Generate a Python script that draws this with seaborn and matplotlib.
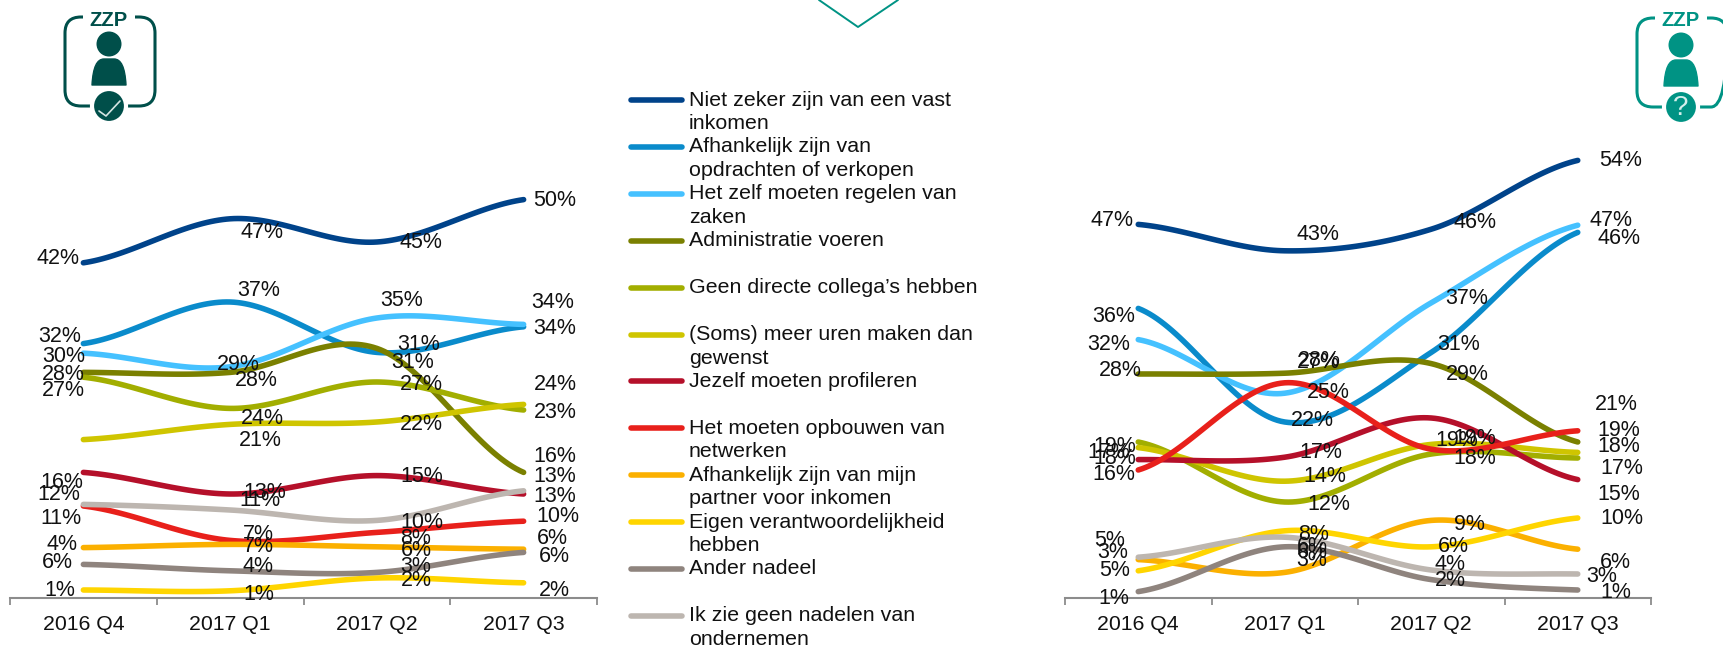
# ZZP nadelen: twee lijngrafieken met een gedeelde legenda
import numpy as np
import pandas as pd
import matplotlib
matplotlib.use("Agg")
import matplotlib.pyplot as plt
from matplotlib.lines import Line2D
from matplotlib.patches import Circle, FancyBboxPatch, PathPatch, Rectangle
from matplotlib.path import Path
import seaborn as sns

categories = ["2016 Q4", "2017 Q1", "2017 Q2", "2017 Q3"]

series_names = [
    "Niet zeker zijn van een vast\ninkomen",
    "Afhankelijk zijn van\nopdrachten of verkopen",
    "Het zelf moeten regelen van\nzaken",
    "Administratie voeren",
    "Geen directe collega’s hebben",
    "(Soms) meer uren maken dan\ngewenst",
    "Jezelf moeten profileren",
    "Het moeten opbouwen van\nnetwerken",
    "Afhankelijk zijn van mijn\npartner voor inkomen",
    "Eigen verantwoordelijkheid\nhebben",
    "Ander nadeel",
    "Ik zie geen nadelen van\nondernemen",
]
series_colors = ["#00438a", "#0a8bcb", "#45c1ff", "#7a8000", "#a2ae00", "#cfc500",
                 "#b5102a", "#e8201b", "#fbb000", "#ffd500", "#8f847e", "#bdb6b0"]

left_values = [
    [41.9, 47.4, 44.5, 49.8],
    [31.8, 37.0, 30.7, 33.9],
    [30.6, 28.9, 35.0, 34.2],
    [28.2, 28.2, 31.2, 15.7],
    [27.6, 23.7, 27.0, 23.5],
    [19.8, 21.7, 22.0, 24.2],
    [15.7, 13.0, 15.3, 13.0],
    [11.5, 7.2, 8.2, 9.6],
    [6.3, 6.7, 6.4, 6.1],
    [1.0, 0.9, 2.5, 1.9],
    [4.2, 3.4, 3.2, 5.7],
    [11.7, 11.0, 9.7, 13.4],
]
right_values = [
    [46.7, 43.4, 46.1, 54.7],
    [36.2, 22.0, 30.7, 45.7],
    [32.3, 25.6, 36.9, 46.6],
    [28.0, 28.1, 29.3, 19.5],
    [19.5, 12.0, 18.0, 17.5],
    [18.8, 14.6, 19.2, 18.2],
    [17.3, 17.6, 22.5, 14.8],
    [16.0, 26.9, 18.6, 20.9],
    [4.8, 3.2, 9.7, 6.1],
    [3.4, 8.4, 6.4, 10.0],
    [0.8, 6.4, 2.3, 1.0],
    [5.1, 7.6, 3.5, 3.0],
]

# teksten van de datalabels, None = geen label zichtbaar
left_labels = [
    [42, 47, 45, 50], [32, 37, 31, 34], [30, 29, 35, 34], [28, 28, 31, 16],
    [27, 24, 27, 23], [None, 21, 22, 24], [16, 13, 15, 13], [11, 7, 8, 10],
    [4, 7, 6, 6], [1, 1, 2, 2], [6, 4, 3, 6], [12, 11, 10, 13],
]
right_labels = [
    [47, 43, 46, 54], [36, 22, 31, 46], [32, 25, 37, 47], [28, 28, 29, 19],
    [19, 12, 18, 17], [18, 14, 19, 18], [17, 17, 19, 15], [16, 27, None, 21],
    [3, 3, 9, 6], [5, 8, 6, 10], [1, 6, 2, 1], [5, 6, 4, 3],
]

# plaats van de labels in pixels (Excel heeft ze met de hand neergezet)
left_label_pos = [
    [(58, 259), (262, 233), (421, 243), (555, 201)],
    [(60, 336), (259, 290), (419, 344), (555, 329)],
    [(64, 357), (238, 364), (402, 301), (553, 302)],
    [(63, 374), (256, 380), (413, 362), (555, 456)],
    [(63, 390), (262, 418), (421, 384), (555, 412)],
    [(0, 0), (260, 441), (421, 424), (555, 384)],
    [(62, 483), (265, 492), (422, 477), (555, 497)],
    [(61, 519), (258, 534), (416, 539), (558, 517)],
    [(62, 545), (258, 546), (416, 550), (552, 539)],
    [(60, 590), (259, 594), (416, 581), (554, 590)],
    [(57, 563), (258, 567), (416, 566), (554, 557)],
    [(59, 495), (260, 501), (422, 522), (555, 477)],
]
right_label_pos = [
    [(1112, 220), (1318, 234), (1475, 222), (1621, 161)],
    [(1114, 316), (1312, 421), (1459, 344), (1619, 239)],
    [(1109, 345), (1328, 393), (1467, 299), (1611, 220)],
    [(1120, 371), (1319, 360), (1467, 375), (1619, 431)],
    [(1115, 446), (1329, 505), (1475, 458), (1622, 469)],
    [(1115, 459), (1325, 477), (1457, 441), (1619, 446)],
    [(1109, 453), (1321, 453), (1475, 438), (1619, 495)],
    [(1114, 474), (1318, 362), (0, 0), (1616, 404)],
    [(1113, 553), (1312, 561), (1469, 524), (1615, 563)],
    [(1115, 570), (1314, 534), (1453, 547), (1622, 519)],
    [(1114, 599), (1312, 552), (1450, 580), (1616, 593)],
    [(1110, 540), (1312, 547), (1450, 565), (1602, 577)],
]

W, H = 1723, 647
AXIS_Y = 598
PX_PER_PCT = 8.0


def smooth_frame(values_per_series):
    # Excel "vloeiende lijn": catmull-rom door de punten
    rows = []
    for name, vals in zip(series_names, values_per_series):
        p = [vals[0]] + list(vals) + [vals[-1]]
        for i in range(len(vals) - 1):
            c1 = p[i + 1] + (p[i + 2] - p[i]) / 6
            c2 = p[i + 2] - (p[i + 3] - p[i + 1]) / 6
            for t in np.linspace(0, 1, 40):
                y = (1 - t)**3 * p[i + 1] + 3 * (1 - t)**2 * t * c1 + 3 * (1 - t) * t**2 * c2 + t**3 * p[i + 2]
                rows.append({"serie": name, "x": i + t, "y": y})
    return pd.DataFrame(rows)


def draw_chart(x0, x1, values):
    ax = fig.add_axes([x0 / W, 1 - AXIS_Y / H, (x1 - x0) / W, (AXIS_Y - 120) / H])
    sns.lineplot(data=smooth_frame(values), x="x", y="y", hue="serie", hue_order=series_names,
                 palette=dict(zip(series_names, series_colors)), estimator=None, sort=False,
                 linewidth=4.0, solid_capstyle="round", legend=False, ax=ax)
    ax.set_xlim(-0.5, 3.5)
    ax.set_ylim(0, (AXIS_Y - 120) / PX_PER_PCT)
    ax.set_xlabel("")
    ax.set_ylabel("")
    ax.set_yticks([])
    ax.set_xticks(range(4))
    ax.set_xticklabels(categories)
    ax.set_xticks(np.arange(-0.5, 4), minor=True)
    ax.tick_params(axis="x", which="major", length=0, pad=12.5, labelsize=15.3, labelcolor="#111111")
    ax.tick_params(axis="x", which="minor", length=5, width=1.3, color="#8c8c8c", bottom=True)
    sns.despine(ax=ax, left=True)
    ax.spines["bottom"].set_color("#8c8c8c")
    ax.spines["bottom"].set_linewidth(1.5)
    ax.patch.set_alpha(0)
    for line in ax.get_lines():
        line.set_clip_on(False)
    return ax


def draw_labels(labels, positions):
    for row, row_pos in zip(labels, positions):
        for val, (px, py) in zip(row, row_pos):
            if val is not None:
                over.text(px, py, f"{val}%", ha="center", va="center", fontsize=15.5, color="#111111")


def draw_icon(cx, color, left, right, top, bottom):
    over.add_patch(FancyBboxPatch((left + 16, top + 16), right - left - 32, bottom - top - 32,
                                  boxstyle="round,pad=16,rounding_size=16", fc="none", ec=color, lw=2.2))
    over.add_patch(Rectangle((cx - 26, top - 3), 52, 8, fc="white", ec="none", zorder=3))
    over.text(cx, top + 3, "ZZP", ha="center", va="center", fontsize=14.5, fontweight="bold", color=color, zorder=4)
    over.add_patch(Circle((cx, top + 27), 12.5, fc=color, ec="none"))
    # romp als klokvorm
    yt, yb = top + 42, top + 68
    body = Path([(cx - 17, yb), (cx - 16, yt + 8), (cx - 12, yt), (cx - 5, yt), (cx, yt), (cx + 5, yt),
                 (cx + 12, yt), (cx + 16, yt + 8), (cx + 17, yb), (cx - 17, yb)],
                [Path.MOVETO, Path.CURVE4, Path.CURVE4, Path.CURVE4, Path.LINETO, Path.LINETO,
                 Path.CURVE4, Path.CURVE4, Path.CURVE4, Path.CLOSEPOLY])
    over.add_patch(PathPatch(body, fc=color, ec=color, lw=1, joinstyle="round"))
    over.add_patch(Circle((cx, bottom), 17, fc=color, ec="white", lw=3, zorder=3))


sns.set_theme(style="white")
plt.rcParams["font.family"] = ["Liberation Sans", "DejaVu Sans"]

fig = plt.figure(figsize=(W / 100, H / 100), dpi=100, facecolor="white")
draw_chart(10, 597, left_values)
draw_chart(1065, 1651, right_values)

# laag in pixelcoordinaten voor labels, legenda en iconen
over = fig.add_axes([0, 0, 1, 1])
over.set_xlim(0, W)
over.set_ylim(H, 0)
over.axis("off")
over.patch.set_alpha(0)

draw_labels(left_labels, left_label_pos)
draw_labels(right_labels, right_label_pos)

# legenda
for i, (name, color) in enumerate(zip(series_names, series_colors)):
    y = 100 + i * 46.9
    over.add_line(Line2D([631, 682], [y, y], color=color, lw=4, solid_capstyle="round"))
    over.text(689, y - 9.5, name, ha="left", va="top", fontsize=15.4, color="#111111", linespacing=1.3)

# punt bovenaan
over.add_line(Line2D([819, 858, 898], [0, 27, 0], color="#009384", lw=1.4))

# iconen
draw_icon(109, "#004f4a", 65, 155, 17, 106)
over.add_line(Line2D([99, 106, 120], [111, 116, 101], color="#d5e5e3", lw=1.2, zorder=5))
draw_icon(1681, "#009384", 1637, 1727, 18, 107)
over.text(1681, 108, "?", ha="center", va="center", fontsize=20, color="#d5efec", zorder=5)

fig.savefig("out.png", dpi=100)
